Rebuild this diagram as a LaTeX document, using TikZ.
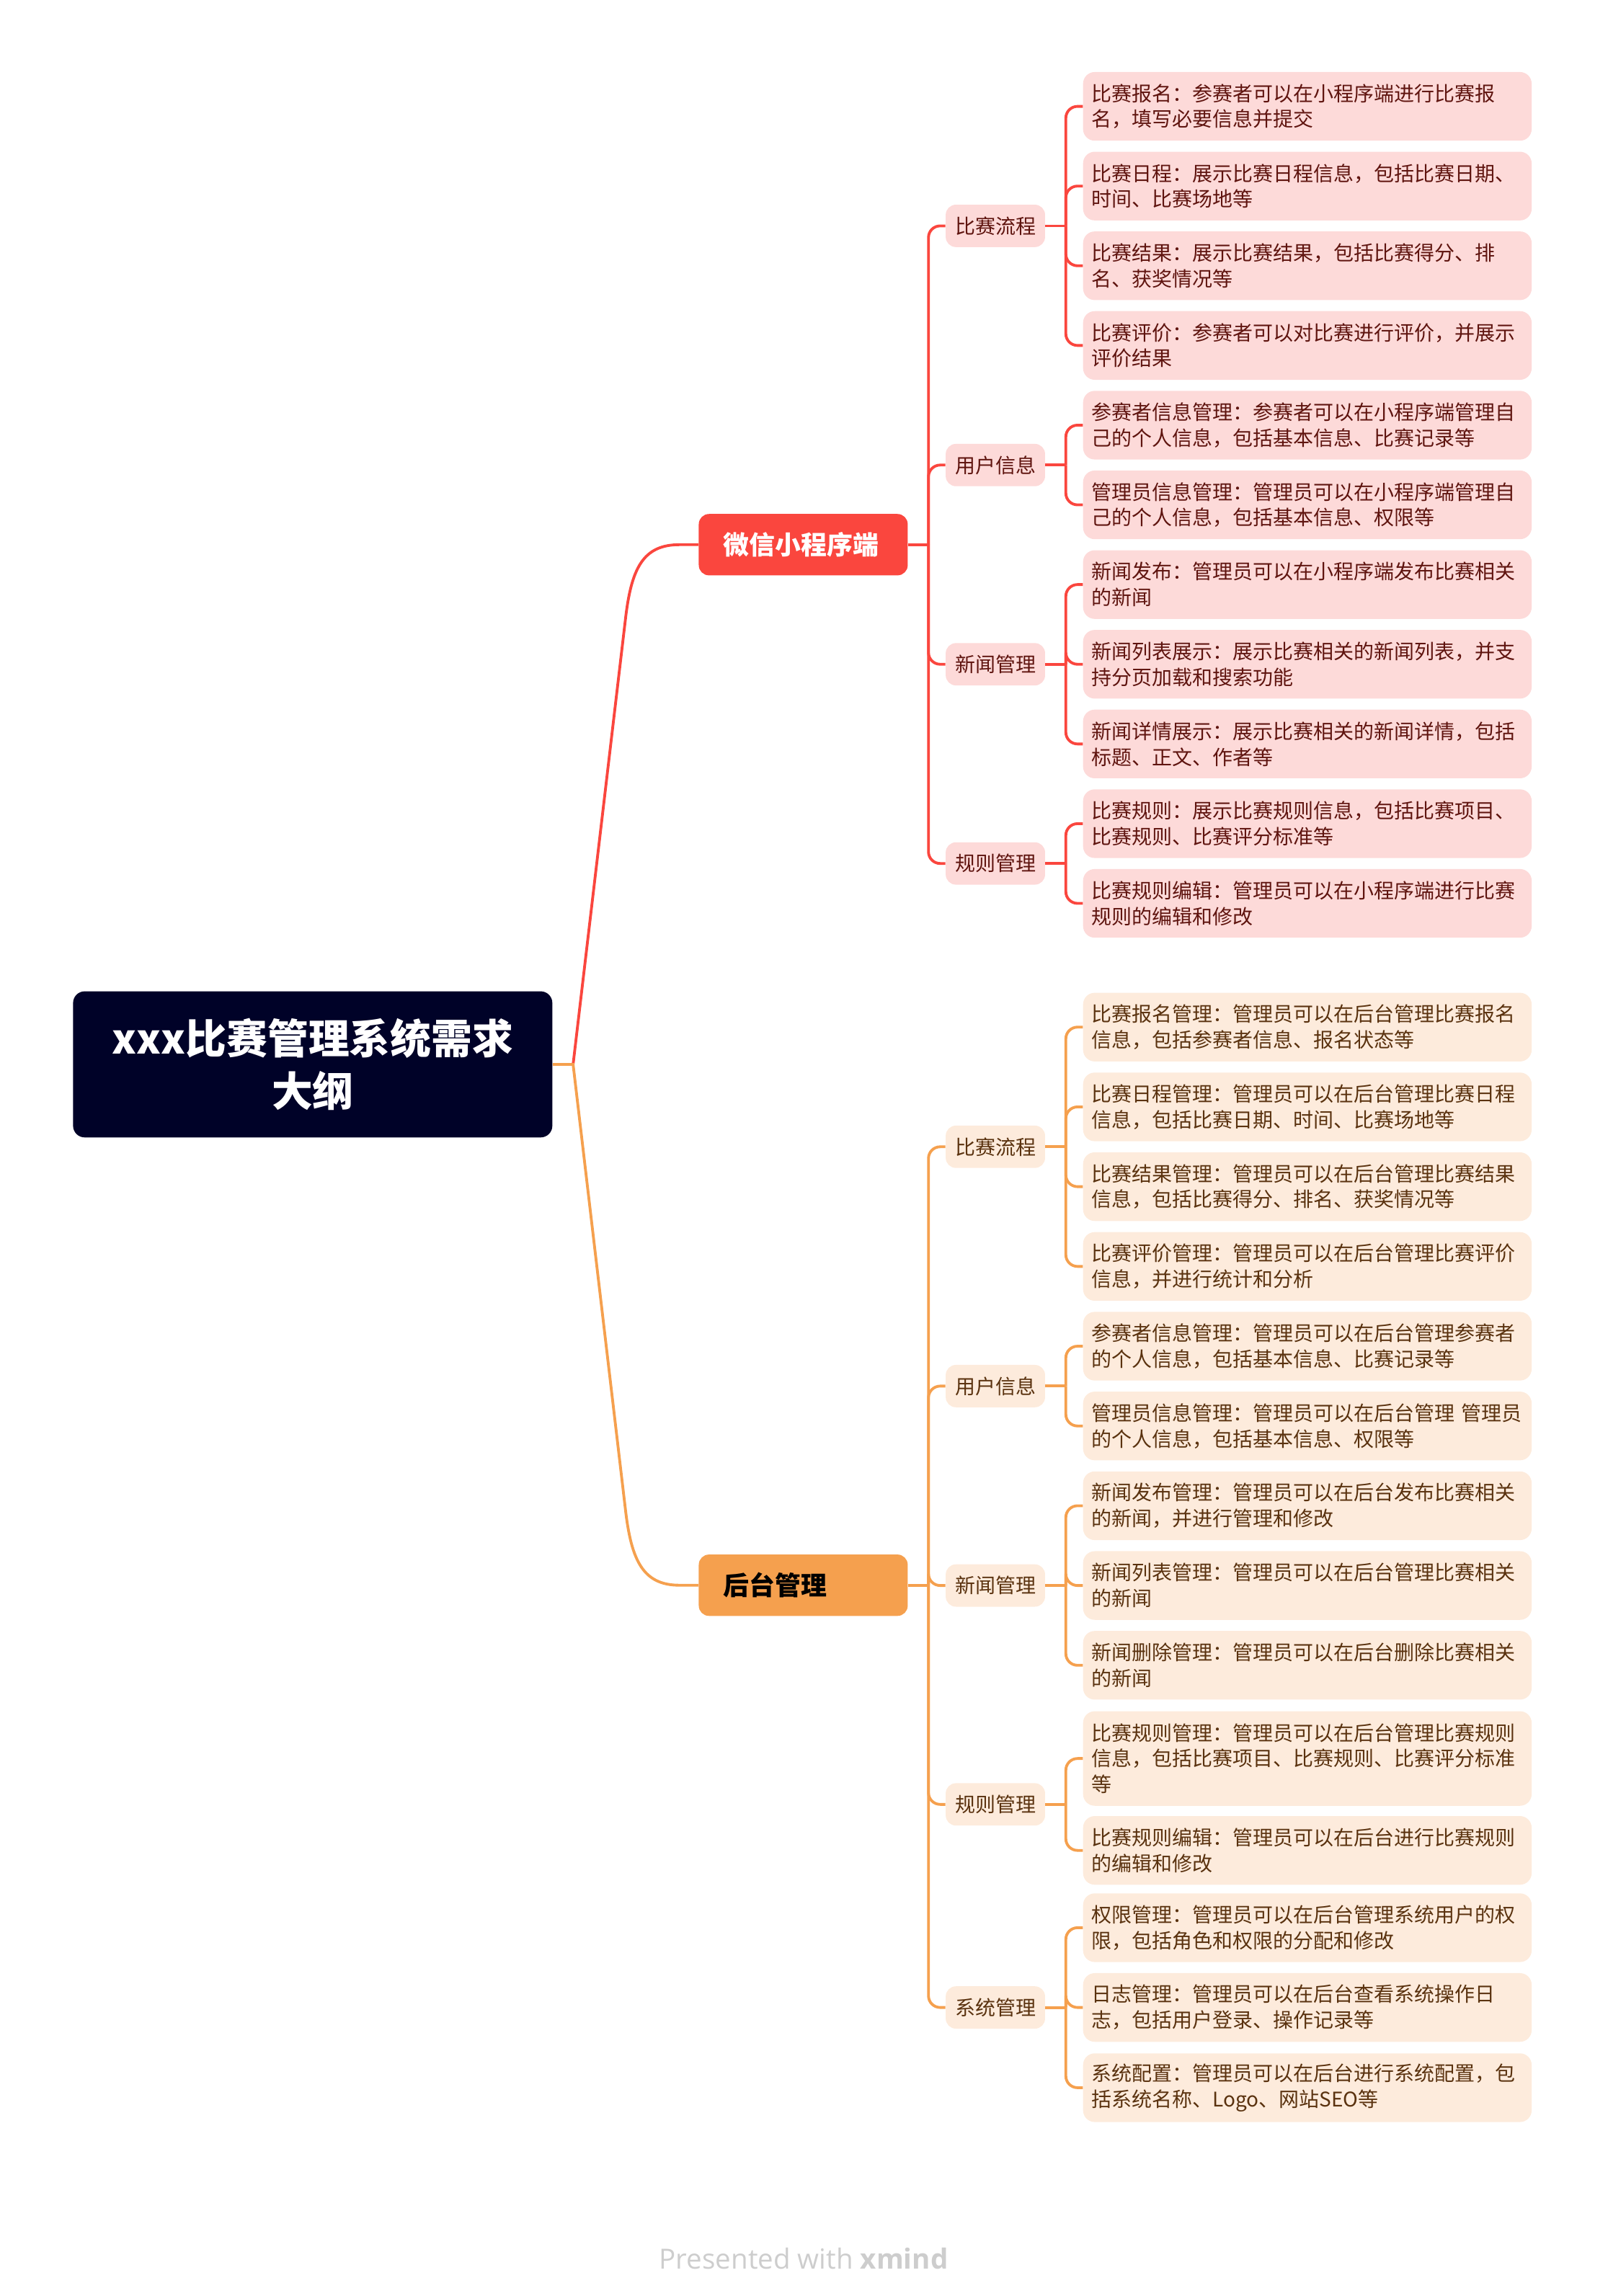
\documentclass[tikz,border=0pt]{standalone}
\usepackage{fontspec}
\setmainfont{Noto Sans CJK SC}
\newfontfamily\xmfont{Open Sans}
\definecolor{cred}{RGB}{250,70,62}
\definecolor{corange}{RGB}{245,160,78}
\definecolor{pinkfill}{RGB}{253,218,217}
\definecolor{peachfill}{RGB}{253,235,220}
\definecolor{redtext}{RGB}{95,20,15}
\definecolor{browntext}{RGB}{90,50,15}
\definecolor{navy}{RGB}{0,2,40}
\definecolor{footgray}{RGB}{205,205,205}
\newcommand{\leaffont}{\fontsize{13.8pt}{17.7pt}\selectfont}
\tikzset{
  rootbox/.style={fill=navy, rounded corners=8pt, minimum width=328pt, minimum height=100pt,
    text width=310pt, align=center, text=white, inner sep=0pt,
    font=\fontsize{28pt}{36pt}\selectfont\bfseries},
  mainbox/.style={rounded corners=7pt, minimum height=42pt, text width=109pt, inner xsep=17pt,
    inner ysep=0pt, align=left, anchor=west, font=\fontsize{17.7pt}{21pt}\selectfont\bfseries},
  mainred/.style={mainbox, fill=cred, text=white},
  mainorange/.style={mainbox, fill=corange, text=black},
  subbox/.style={rounded corners=7pt, minimum height=29pt, inner xsep=6.4pt, inner ysep=0pt,
    anchor=west, font=\leaffont},
  subred/.style={subbox, fill=pinkfill, text=redtext},
  suborange/.style={subbox, fill=peachfill, text=browntext},
  leafbox/.style={rounded corners=8pt, minimum height=47pt, text width=295pt, inner xsep=6pt,
    inner ysep=0pt, align=left, anchor=west, font=\leaffont},
  leafred/.style={leafbox, fill=pinkfill, text=redtext},
  leaforange/.style={leafbox, fill=peachfill, text=browntext},
  redline/.style={draw=cred, line width=1.9pt},
  orangeline/.style={draw=corange, line width=1.9pt},
  elbow/.style={rounded corners=8pt}
}
\begin{document}
\begin{tikzpicture}[x=1pt,y=-1pt]
\useasboundingbox (0,0) rectangle (1100,1571.5);

% root and main branches
\node[rootbox] (root) at (214,728.5) {xxx比赛管理系统需求\\大纲};
\node[mainred] (b1) at (478,372.8) {微信小程序端};
\node[mainorange] (b2) at (478,1085) {后台管理};

% level 2 (top)
\node[subred] (c1) at (647,154.6) {比赛流程};
\node[subred] (c2) at (647,318.3) {用户信息};
\node[subred] (c3) at (647,454.65) {新闻管理};
\node[subred] (c4) at (647,591.0) {规则管理};
% level 2 (bottom)
\node[suborange] (c5) at (647,784.9) {比赛流程};
\node[suborange] (c6) at (647,948.7) {用户信息};
\node[suborange] (c7) at (647,1085.2) {新闻管理};
\node[suborange] (c8) at (647,1235) {规则管理};
\node[suborange] (c9) at (647,1374) {系统管理};

% leaves (top)
\node[leafred] (l1) at (741,72.8) {比赛报名：参赛者可以在小程序端进行比赛报\\名，填写必要信息并提交};
\node[leafred] (l2) at (741,127.35) {比赛日程：展示比赛日程信息，包括比赛日期、\\时间、比赛场地等};
\node[leafred] (l3) at (741,181.9) {比赛结果：展示比赛结果，包括比赛得分、排\\名、获奖情况等};
\node[leafred] (l4) at (741,236.45) {比赛评价：参赛者可以对比赛进行评价，并展示\\评价结果};
\node[leafred] (l5) at (741,291) {参赛者信息管理：参赛者可以在小程序端管理自\\己的个人信息，包括基本信息、比赛记录等};
\node[leafred] (l6) at (741,345.55) {管理员信息管理：管理员可以在小程序端管理自\\己的个人信息，包括基本信息、权限等};
\node[leafred] (l7) at (741,400.1) {新闻发布：管理员可以在小程序端发布比赛相关\\的新闻};
\node[leafred] (l8) at (741,454.65) {新闻列表展示：展示比赛相关的新闻列表，并支\\持分页加载和搜索功能};
\node[leafred] (l9) at (741,509.2) {新闻详情展示：展示比赛相关的新闻详情，包括\\标题、正文、作者等};
\node[leafred] (l10) at (741,563.75) {比赛规则：展示比赛规则信息，包括比赛项目、\\比赛规则、比赛评分标准等};
\node[leafred] (l11) at (741,618.3) {比赛规则编辑：管理员可以在小程序端进行比赛\\规则的编辑和修改};

% leaves (bottom)
\node[leaforange] (l12) at (741,703) {比赛报名管理：管理员可以在后台管理比赛报名\\信息，包括参赛者信息、报名状态等};
\node[leaforange] (l13) at (741,757.6) {比赛日程管理：管理员可以在后台管理比赛日程\\信息，包括比赛日期、时间、比赛场地等};
\node[leaforange] (l14) at (741,812.2) {比赛结果管理：管理员可以在后台管理比赛结果\\信息，包括比赛得分、排名、获奖情况等};
\node[leaforange] (l15) at (741,866.8) {比赛评价管理：管理员可以在后台管理比赛评价\\信息，并进行统计和分析};
\node[leaforange] (l16) at (741,921.4) {参赛者信息管理：管理员可以在后台管理参赛者\\的个人信息，包括基本信息、比赛记录等};
\node[leaforange] (l17) at (741,976) {管理员信息管理：管理员可以在后台管理~管理员\\的个人信息，包括基本信息、权限等};
\node[leaforange] (l18) at (741,1030.6) {新闻发布管理：管理员可以在后台发布比赛相关\\的新闻，并进行管理和修改};
\node[leaforange] (l19) at (741,1085.2) {新闻列表管理：管理员可以在后台管理比赛相关\\的新闻};
\node[leaforange] (l20) at (741,1139.8) {新闻删除管理：管理员可以在后台删除比赛相关\\的新闻};
\node[leaforange, minimum height=64.7pt] (l21) at (741,1203.6) {比赛规则管理：管理员可以在后台管理比赛规则\\信息，包括比赛项目、比赛规则、比赛评分标准\\等};
\node[leaforange] (l22) at (741,1266.5) {比赛规则编辑：管理员可以在后台进行比赛规则\\的编辑和修改};
\node[leaforange] (l23) at (741,1319.4) {权限管理：管理员可以在后台管理系统用户的权\\限，包括角色和权限的分配和修改};
\node[leaforange] (l24) at (741,1374) {日志管理：管理员可以在后台查看系统操作日\\志，包括用户登录、操作记录等};
\node[leaforange] (l25) at (741,1428.9) {系统配置：管理员可以在后台进行系统配置，包\\括系统名称、Logo、网站SEO等};

% root connectors
\coordinate (hub) at ([xshift=14pt]root.east);
\draw[redline] (hub) -- (428,424) .. controls (432,389) and (440,372.8) .. (465,372.8) -- (b1.west);
\draw[orangeline] (root.east) -- (hub) -- (428,1033) .. controls (432,1068) and (440,1085) .. (465,1085) -- (b2.west);

% main -> level 2
\coordinate (s1) at ([xshift=14pt]b1.east);
\coordinate (s2) at ([xshift=14pt]b2.east);
\draw[redline] (b1.east) -- (s1);
\foreach \c in {c1,c2,c3,c4}{
  \draw[redline, elbow] (s1) -- (s1 |- \c.west) -- (\c.west);
}
\draw[orangeline] (b2.east) -- (s2);
\foreach \c in {c5,c6,c7,c8,c9}{
  \draw[orangeline, elbow] (s2) -- (s2 |- \c.west) -- (\c.west);
}

% level 2 -> leaves
\foreach \p/\kids/\sty in {c1/{l1,l2,l3,l4}/redline, c2/{l5,l6}/redline, c3/{l7,l8,l9}/redline, c4/{l10,l11}/redline,
  c5/{l12,l13,l14,l15}/orangeline, c6/{l16,l17}/orangeline, c7/{l18,l19,l20}/orangeline,
  c8/{l21,l22}/orangeline, c9/{l23,l24,l25}/orangeline}{
  \coordinate (t-\p) at ([xshift=14pt]\p.east);
  \draw[\sty] (\p.east) -- (t-\p);
  \foreach \k in \kids {
    \draw[\sty, elbow] (t-\p) -- (t-\p |- \k.west) -- (\k.west);
  }
}

% footer
\node[text=footgray, font=\xmfont\fontsize{19pt}{23pt}\selectfont] (foot) at (550,1546) {Presented with \textbf{xmind}};
\end{tikzpicture}
\end{document}
